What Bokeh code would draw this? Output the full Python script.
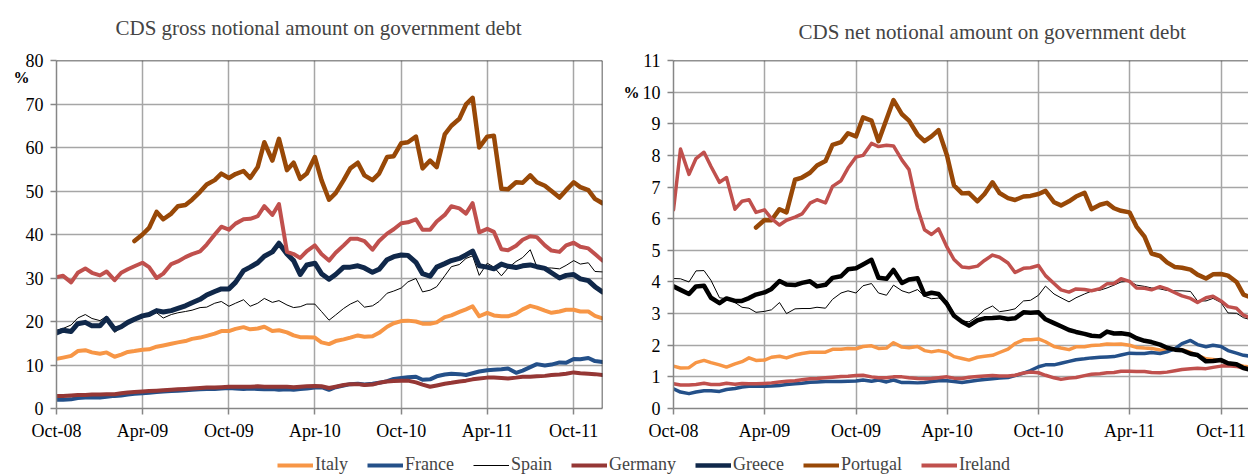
import numpy as np
import pandas as pd
from bokeh.plotting import figure
from bokeh.layouts import column, row
from bokeh.models import (FixedTicker, DatetimeTickFormatter, Range1d, Span,
                          Legend, LegendItem, LinearAxis, Title)
from bokeh.embed import file_html
from bokeh.resources import INLINE

NaN = float("nan")

# semi-monthly observation dates, Oct-2008 .. Dec-2011
dates = pd.date_range("2008-10-01", "2011-12-01", freq="SMS")
tick_dates = ["2008-10-01", "2009-04-01", "2009-10-01", "2010-04-01",
              "2010-10-01", "2011-04-01", "2011-10-01"]
tick_labels = ["Oct-08", "Apr-09", "Oct-09", "Apr-10", "Oct-10", "Apr-11", "Oct-11"]

countries = ["Italy", "France", "Spain", "Germany", "Greece", "Portugal", "Ireland"]

# ---------------- CDS gross notional (% of government debt) ----------------
gross_italy = [11.4, 11.7, 12.1, 13.2, 13.4, 12.9, 12.6, 12.9, 11.9, 12.4,
               13.0, 13.2, 13.5, 13.6, 14.2, 14.5, 14.9, 15.2, 15.5, 16.0,
               16.3, 16.7, 17.2, 17.8, 17.8, 18.3, 18.7, 18.2, 18.4, 18.8,
               17.8, 18.0, 17.5, 16.8, 16.4, 16.4, 16.3, 15.2, 14.8, 15.5,
               15.9, 16.3, 16.8, 16.5, 16.6, 17.4, 18.8, 19.6, 20.1, 20.2,
               20.0, 19.5, 19.5, 19.8, 21.0, 21.4, 22.2, 22.8, 23.5, 21.2,
               22.0, 21.4, 21.2, 21.2, 21.8, 22.8, 23.6, 23.2, 22.5, 22.0,
               22.3, 22.7, 22.7, 22.3, 22.3, 21.3, 20.7]
gross_france = [2.0, 2.0, 2.1, 2.4, 2.5, 2.6, 2.5, 2.7, 2.9, 3.0,
                3.2, 3.4, 3.5, 3.6, 3.8, 3.9, 4.0, 4.1, 4.2, 4.3,
                4.4, 4.5, 4.5, 4.6, 4.7, 4.6, 4.5, 4.6, 4.5, 4.4,
                4.5, 4.3, 4.4, 4.3, 4.5, 4.6, 4.8, 4.9, 4.3, 4.9,
                5.3, 5.6, 5.7, 5.5, 5.7, 5.9, 6.3, 6.8, 7.0, 7.2,
                7.3, 6.6, 6.7, 7.4, 7.8, 8.0, 7.9, 7.7, 8.1, 8.5,
                8.8, 8.9, 9.0, 9.2, 8.2, 8.7, 9.5, 10.2, 9.9, 10.1,
                10.6, 10.5, 11.4, 11.3, 11.6, 10.9, 10.7]
gross_spain = [18.0, 18.4, 19.2, 20.8, 21.6, 20.7, 20.2, 21.2, 17.5, 18.6,
               19.5, 20.2, 21.0, 21.5, 22.0, 20.8, 21.6, 22.0, 22.3, 22.6,
               23.2, 23.3, 24.2, 24.6, 23.5, 24.2, 25.0, 23.5, 24.2, 25.3,
               24.4, 24.8, 23.8, 23.2, 23.4, 24.0, 24.0, 22.3, 20.3, 21.5,
               23.0, 24.0, 24.8, 23.3, 23.6, 24.6, 26.5, 27.0, 27.7, 29.1,
               29.9, 26.8, 27.2, 28.0, 30.5, 32.6, 33.1, 34.5, 35.1, 30.6,
               33.4, 32.5, 30.5, 32.3, 33.8, 34.7, 36.5, 32.6, 32.3, 32.3,
               32.1, 32.9, 34.0, 33.2, 33.5, 31.5, 31.4]
gross_germany = [2.9, 2.9, 3.0, 3.1, 3.1, 3.2, 3.2, 3.3, 3.3, 3.5,
                 3.7, 3.8, 3.9, 4.0, 4.1, 4.2, 4.3, 4.4, 4.5, 4.6,
                 4.7, 4.8, 4.8, 4.9, 5.0, 5.0, 5.0, 5.0, 5.1, 5.0,
                 5.0, 5.0, 5.0, 4.9, 5.0, 5.1, 5.2, 5.1, 4.7, 5.0,
                 5.4, 5.6, 5.6, 5.4, 5.5, 5.9, 6.2, 6.3, 6.4, 6.4,
                 6.0, 5.5, 5.0, 5.3, 5.7, 5.9, 6.2, 6.4, 6.7, 6.9,
                 7.1, 7.1, 7.0, 6.9, 7.1, 7.3, 7.3, 7.4, 7.5, 7.7,
                 7.8, 8.0, 8.3, 8.1, 8.0, 7.9, 7.7]
gross_greece = [17.4, 18.0, 17.7, 19.5, 19.8, 19.0, 19.0, 20.7, 18.2, 18.8,
                19.8, 20.5, 21.3, 21.6, 22.5, 22.2, 22.5, 23.0, 23.6, 24.3,
                25.1, 26.1, 26.9, 27.5, 27.5, 29.0, 31.7, 32.5, 33.5, 35.0,
                36.0, 38.0, 35.5, 34.0, 30.8, 33.0, 33.4, 31.0, 29.7, 30.8,
                32.5, 32.5, 32.8, 32.3, 31.3, 32.0, 34.2, 34.9, 35.3, 35.2,
                33.6, 31.0, 30.4, 32.5, 33.3, 34.0, 34.5, 35.3, 36.2, 32.8,
                32.5, 32.1, 33.2, 32.7, 32.4, 32.8, 33.0, 32.6, 32.2, 31.2,
                30.0, 30.6, 30.8, 29.8, 29.4, 28.0, 26.8]
gross_portugal = [NaN, NaN, NaN, NaN, NaN, NaN, NaN, NaN, NaN, NaN,
                  NaN, 38.5, 40.0, 41.5, 45.2, 43.5, 44.8, 46.5, 46.8, 48.0,
                  49.8, 51.5, 52.5, 54.0, 53.0, 53.9, 54.6, 53.0, 55.5, 61.2,
                  57.0, 62.0, 54.8, 56.5, 52.8, 54.0, 57.8, 52.5, 48.0, 49.5,
                  52.5, 55.2, 56.5, 53.6, 52.5, 54.0, 57.8, 58.0, 61.0, 61.2,
                  62.5, 55.2, 57.0, 55.5, 63.0, 65.0, 66.6, 69.9, 71.4, 60.0,
                  62.5, 62.7, 50.5, 50.4, 52.0, 51.9, 53.6, 52.0, 51.2, 50.0,
                  48.5, 50.2, 52.0, 50.9, 50.2, 48.2, 47.2]
gross_ireland = [30.2, 30.5, 29.0, 31.2, 32.2, 31.2, 30.6, 31.5, 29.5, 31.2,
                 32.0, 32.7, 33.5, 32.5, 30.0, 31.0, 33.2, 33.8, 34.8, 35.5,
                 36.1, 37.7, 40.0, 41.8, 41.1, 42.5, 43.5, 43.6, 44.2, 46.5,
                 44.5, 47.0, 36.0, 35.5, 34.6, 36.2, 37.5, 35.5, 34.0, 35.8,
                 37.5, 39.0, 39.0, 38.5, 36.5, 38.5, 40.2, 41.2, 42.6, 42.8,
                 43.5, 41.1, 41.1, 43.0, 44.5, 46.5, 46.0, 44.8, 47.2, 40.5,
                 41.3, 40.6, 36.6, 36.4, 37.4, 38.8, 39.6, 39.4, 37.5, 36.3,
                 36.0, 37.5, 38.1, 37.2, 36.8, 35.5, 34.0]

# ---------------- CDS net notional (% of government debt) ----------------
net_italy = [1.34, 1.28, 1.29, 1.45, 1.52, 1.45, 1.38, 1.31, 1.41, 1.48,
             1.60, 1.52, 1.53, 1.62, 1.65, 1.60, 1.69, 1.74, 1.78, 1.78,
             1.78, 1.87, 1.87, 1.90, 1.89, 1.96, 1.98, 1.90, 1.91, 2.08,
             1.94, 1.92, 1.96, 1.83, 1.79, 1.83, 1.78, 1.64, 1.58, 1.53,
             1.62, 1.65, 1.68, 1.77, 1.88, 2.05, 2.17, 2.17, 2.20, 2.11,
             1.96, 1.91, 1.86, 1.95, 1.95, 1.99, 2.01, 2.04, 2.03, 2.04,
             2.00, 1.93, 1.91, 1.90, 1.85, 1.84, 1.88, 1.86, 1.77, 1.68,
             1.57, 1.55, 1.52, 1.43, 1.39, 1.34, 1.30]
net_france = [0.62, 0.52, 0.47, 0.52, 0.56, 0.56, 0.54, 0.60, 0.63, 0.68,
              0.70, 0.70, 0.70, 0.71, 0.73, 0.76, 0.78, 0.80, 0.83, 0.84,
              0.85, 0.85, 0.85, 0.86, 0.87, 0.90, 0.86, 0.90, 0.84, 0.90,
              0.82, 0.82, 0.81, 0.82, 0.85, 0.88, 0.88, 0.85, 0.82, 0.85,
              0.89, 0.92, 0.94, 0.96, 0.98, 1.04, 1.12, 1.20, 1.32, 1.38,
              1.38, 1.43, 1.49, 1.54, 1.57, 1.60, 1.62, 1.63, 1.64, 1.69,
              1.75, 1.74, 1.74, 1.77, 1.74, 1.79, 1.89, 2.05, 2.15, 2.02,
              1.95, 2.00, 1.96, 1.83, 1.75, 1.68, 1.65]
net_spain = [4.11, 4.10, 4.00, 4.35, 4.36, 4.05, 3.50, 3.47, 3.35, 3.20,
             3.17, 3.04, 3.07, 3.12, 3.35, 3.00, 3.15, 3.16, 3.16, 3.20,
             3.17, 3.45, 3.65, 3.72, 3.65, 3.88, 3.95, 3.65, 3.58, 3.90,
             3.72, 3.65, 3.76, 3.55, 3.47, 3.49, 3.40, 3.00, 2.77, 2.74,
             2.92, 3.12, 3.24, 3.06, 3.10, 3.15, 3.40, 3.42, 3.58, 3.87,
             3.62, 3.50, 3.37, 3.50, 3.62, 3.71, 3.74, 3.81, 3.90, 4.00,
             4.02, 3.90, 3.86, 3.81, 3.78, 3.73, 3.72, 3.72, 3.70, 3.40,
             3.40, 3.48, 3.35, 3.02, 3.01, 2.87, 2.80]
net_germany = [0.78, 0.74, 0.74, 0.76, 0.80, 0.76, 0.76, 0.80, 0.77, 0.79,
               0.78, 0.78, 0.79, 0.81, 0.84, 0.86, 0.88, 0.91, 0.94, 0.95,
               0.97, 0.99, 1.01, 1.02, 1.04, 1.05, 1.00, 0.97, 0.97, 1.00,
               1.00, 0.97, 0.95, 0.94, 0.95, 0.97, 1.00, 0.96, 0.95, 0.99,
               1.01, 1.03, 1.04, 1.03, 1.03, 1.05, 1.12, 1.15, 1.13, 1.05,
               0.97, 0.92, 0.96, 0.98, 1.04, 1.08, 1.10, 1.13, 1.14, 1.18,
               1.18, 1.17, 1.17, 1.14, 1.13, 1.15, 1.19, 1.23, 1.26, 1.27,
               1.26, 1.30, 1.34, 1.35, 1.33, 1.27, 1.24]
net_greece = [3.86, 3.75, 3.62, 3.86, 3.88, 3.50, 3.33, 3.48, 3.40, 3.40,
              3.49, 3.60, 3.67, 3.78, 4.03, 3.92, 3.90, 3.97, 4.02, 3.86,
              3.91, 4.13, 4.18, 4.40, 4.43, 4.55, 4.70, 4.13, 4.10, 4.38,
              3.97, 4.08, 4.12, 3.60, 3.66, 3.62, 3.30, 2.93, 2.74, 2.62,
              2.79, 2.85, 2.86, 2.88, 2.83, 2.85, 3.04, 3.03, 3.04, 2.82,
              2.70, 2.60, 2.48, 2.42, 2.36, 2.30, 2.28, 2.43, 2.37, 2.38,
              2.34, 2.22, 2.14, 2.10, 2.02, 1.92, 1.86, 1.84, 1.73, 1.69,
              1.49, 1.50, 1.53, 1.43, 1.40, 1.28, 1.22]
net_portugal = [NaN, NaN, NaN, NaN, NaN, NaN, NaN, NaN, NaN, NaN,
                NaN, 5.72, 5.96, 5.95, 6.30, 6.20, 7.23, 7.30, 7.45, 7.68,
                7.82, 8.33, 8.42, 8.70, 8.60, 9.20, 9.10, 8.45, 9.14, 9.75,
                9.30, 9.10, 8.66, 8.45, 8.60, 8.80, 8.00, 7.05, 6.80, 6.81,
                6.55, 6.78, 7.15, 6.81, 6.65, 6.59, 6.70, 6.72, 6.78, 6.88,
                6.52, 6.42, 6.55, 6.70, 6.82, 6.30, 6.44, 6.50, 6.33, 6.25,
                6.20, 5.75, 5.43, 4.90, 4.82, 4.62, 4.47, 4.45, 4.39, 4.23,
                4.11, 4.24, 4.25, 4.20, 4.00, 3.60, 3.50]
net_ireland = [6.28, 8.20, 7.40, 7.90, 8.10, 7.65, 7.15, 7.30, 6.30, 6.55,
               6.60, 6.20, 6.28, 6.00, 5.80, 5.95, 6.05, 6.15, 6.49, 6.60,
               6.50, 7.02, 7.20, 7.60, 7.95, 8.00, 8.38, 8.28, 8.32, 8.30,
               7.85, 7.55, 6.33, 5.65, 5.50, 5.68, 5.10, 4.71, 4.47, 4.45,
               4.50, 4.68, 4.85, 4.78, 4.60, 4.30, 4.43, 4.45, 4.52, 4.20,
               3.95, 3.75, 3.68, 3.78, 3.76, 3.72, 3.79, 3.94, 3.95, 4.10,
               4.02, 3.81, 3.80, 3.75, 3.85, 3.78, 3.66, 3.56, 3.48, 3.35,
               3.50, 3.55, 3.40, 3.22, 3.17, 2.95, 2.85]

gross_series = [gross_italy, gross_france, gross_spain, gross_germany,
                gross_greece, gross_portugal, gross_ireland]
net_series = [net_italy, net_france, net_spain, net_germany,
              net_greece, net_portugal, net_ireland]

# styles
legend_colors = ["#F79646", "#245089", "#000000", "#953735", "#10284A", "#984807", "#C0504D"]
gross_colors = legend_colors
net_colors = ["#F79646", "#245089", "#000000", "#C0504D", "#000000", "#984807", "#C0504D"]
gross_widths = [4, 4, 1, 4, 5, 4.5, 4]
net_widths = [3.5, 3.5, 1, 3.5, 4.5, 4.5, 3.5]
legend_widths = [4, 4, 1, 4, 4.5, 4, 4]

FONT = "Liberation Serif"
GRID = "#A6A6A6"
AXIS = "#868686"


def ms(d):
    return pd.Timestamp(d).value / 1e6


tick_ms = [ms(d) for d in tick_dates]


def make_chart(title, series, colors, widths, ymax, ystep, x_end, width,
               b_left, b_right, b_top, t_offset, spacer_px, spacer_standoff,
               pct_y, pct_standoff, right_span):
    p = figure(width=width, height=448, x_axis_type="datetime",
               x_range=Range1d(ms("2008-10-01"), ms(x_end)),
               y_range=Range1d(0, ymax),
               output_backend="svg", toolbar_location=None,
               min_border_left=b_left, min_border_right=b_right,
               min_border_top=b_top, min_border_bottom=40,
               title=None)
    # blank spacer title (closest to the frame) then the real title above it
    p.add_layout(Title(text=" ", text_font_size=f"{spacer_px}px",
                       standoff=spacer_standoff), "above")
    p.add_layout(Title(text=title, text_font=FONT, text_font_size="21px",
                       text_font_style="normal", align="left",
                       offset=t_offset), "above")
    p.outline_line_color = None
    p.background_fill_color = "white"
    p.border_fill_color = "white"

    p.xaxis.ticker = FixedTicker(ticks=tick_ms)
    fmt = "%b-%y"
    p.xaxis.formatter = DatetimeTickFormatter(
        microseconds=fmt, milliseconds=fmt, seconds=fmt, minsec=fmt,
        minutes=fmt, hourmin=fmt, hours=fmt, days=fmt, months=fmt, years=fmt)
    yticker = FixedTicker(ticks=list(range(0, ymax + 1, ystep)))
    p.yaxis.ticker = yticker
    for ax in (p.xaxis[0], p.yaxis[0]):
        ax.axis_line_color = AXIS
        ax.axis_line_width = 1.5
        ax.major_tick_line_color = AXIS
        ax.major_tick_line_width = 1.5
        ax.major_tick_out = 6
        ax.major_tick_in = 0
        ax.minor_tick_line_color = None
        ax.major_label_text_font = FONT
        ax.major_label_text_font_size = "18px"
        ax.major_label_text_color = "black"
    p.xaxis.major_label_standoff = 6
    p.yaxis.major_label_standoff = 7

    p.xgrid.ticker = FixedTicker(ticks=tick_ms)
    p.ygrid.ticker = yticker
    for g in (p.xgrid[0], p.ygrid[0]):
        g.grid_line_color = GRID
        g.grid_line_width = 1.5

    # "%" unit marker, as a one-tick extra axis on the left
    pct_axis = LinearAxis(ticker=FixedTicker(ticks=[pct_y]),
                          major_label_overrides={pct_y: "%"},
                          axis_line_color=None, major_tick_line_color=None,
                          minor_tick_line_color=None, major_tick_out=0,
                          major_label_standoff=pct_standoff,
                          major_label_text_font=FONT,
                          major_label_text_font_size="16px",
                          major_label_text_font_style="bold",
                          major_label_text_color="black")
    p.add_layout(pct_axis, "left")

    p.add_layout(Span(location=ymax, dimension="width", line_color="#222222", line_width=1.5))
    if right_span:
        p.add_layout(Span(location=ms(x_end), dimension="height", line_color="#222222", line_width=1.5))

    for vals, c, w in zip(series, colors, widths):
        p.line(x=dates, y=np.array(vals, dtype=float), line_color=c, line_width=w,
               line_join="round", line_cap="round")
    return p


p1 = make_chart("CDS gross notional amount on government debt", gross_series,
                gross_colors, gross_widths, 80, 10, "2011-12-01", 620,
                56, 18, 57, 59, 12, 0, 76, -7, True)
p2 = make_chart("CDS net notional amount on government debt", net_series,
                net_colors, net_widths, 11, 1, "2011-11-25", 628,
                46, 0, 60, 125, 6, 4, 10, 0, False)

leg = figure(width=1248, height=27, output_backend="svg", toolbar_location=None,
             x_range=Range1d(0, 1), y_range=Range1d(0, 1),
             x_axis_location=None, y_axis_location=None, min_border=0)
leg.grid.visible = False
leg.outline_line_color = None
items = []
for name, c, w in zip(countries, legend_colors, legend_widths):
    r = leg.line(x=[-5, -4], y=[-5, -5], line_color=c, line_width=w)
    items.append(LegendItem(label=name, renderers=[r]))
legend = Legend(items=items, orientation="horizontal", location=(277, 0),
                glyph_width=36, glyph_height=20, label_standoff=2, spacing=19,
                padding=0, margin=0, border_line_color=None,
                background_fill_alpha=0, label_text_font=FONT,
                label_text_font_size="18px", label_height=20)
leg.add_layout(legend)

layout = column(row(p1, p2), leg)
open("out.html", "w").write(file_html(layout, INLINE))
